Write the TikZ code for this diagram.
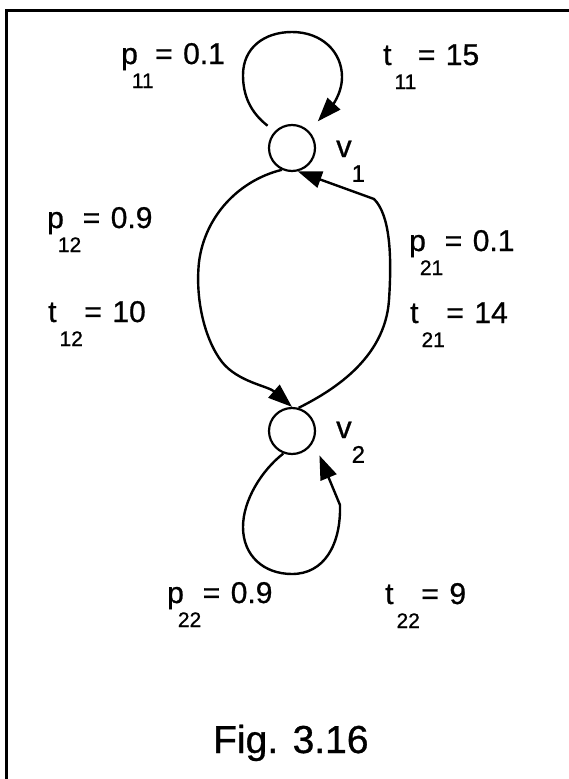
\documentclass[tikz,border=0pt]{standalone}
\usepackage{fontspec}
\setmainfont{Liberation Sans}[FakeBold=0.8]
\usetikzlibrary{arrows.meta}
\newcommand\plbl[2]{p\kern-0.2em\raisebox{-0.8em}{\fontsize{21}{21}\selectfont #1}\kern0.05em#2}
\newcommand\tlbl[2]{t\kern0.1em\raisebox{-0.8em}{\fontsize{21}{21}\selectfont #1}\kern0.05em#2}
\newcommand\vlbl[1]{v\raisebox{-0.8em}{\fontsize{24}{24}\selectfont #1}}
\begin{document}
\begin{tikzpicture}[x=1pt,y=-1pt, line width=2.4pt,
  state/.style={circle,draw,minimum size=46pt,inner sep=0pt,line width=2.2pt},
  arr/.style={-{Triangle[length=24pt,width=17pt]}},
  lbl/.style={anchor=base west,inner sep=0pt,font=\fontsize{30}{30}\selectfont},
  vl/.style={anchor=base west,inner sep=0pt,font=\fontsize{31}{31}\selectfont},
  frame/.style={line width=3pt}]
\useasboundingbox (0,0) rectangle (569,779);
\coordinate (ftl) at (6,10);
\coordinate (ftr) at (569,10);
\coordinate (fbl) at (6,779);
\draw[frame] (ftr) -- (ftl) -- (fbl);

\node[state] (v1) at (292,148) {};
\node[state] (v2) at (292,431) {};

% self loop at v1
\draw[arr, shorten <=9pt, shorten >=13pt] (v1.136)
  .. controls (250,112) and (243,95) .. (243,75)
  .. controls (243,48) and (264,32) .. (292,32)
  .. controls (322,32) and (342,52) .. (342,77)
  .. controls (342,95) and (330,108) .. (v1.45);

% v1 -> v2 (left arc)
\draw[arr] (v1.245)
  .. controls (240,180) and (205,215) .. (199,262)
  .. controls (195,300) and (205,340) .. (222,362)
  .. controls (238,382) and (268,386) .. (v2.north);

% v2 -> v1 (right arc)
\draw[arr] (v2.74)
  .. controls (330,392) and (385,360) .. (389,300)
  .. controls (392,255) and (390,215) .. (374,199)
  -- (v1.-76);

% self loop at v2
\draw[arr, shorten >=15pt] (v2.249)
  .. controls (262,470) and (243,500) .. (243,527)
  .. controls (243,556) and (264,574) .. (292,574)
  .. controls (324,574) and (341,545) .. (340,505)
  -- (v2.-26);

\node[vl] (lv1) at (335,157) {\vlbl{1}};
\node[vl] (lv2) at (335,438) {\vlbl{2}};

\node[lbl] (p11) at (120,64) {\plbl{11}{=\kern0.35em 0.1}};
\node[lbl] (t11) at (382,65) {\tlbl{11}{=\kern0.35em 15}};
\node[lbl] (p12) at (46,228) {\plbl{12}{=\kern0.35em 0.9}};
\node[lbl] (t12) at (47,322) {\tlbl{12}{=\kern0.35em 10}};
\node[lbl] (p21) at (408,251) {\plbl{21}{=\kern0.35em 0.1}};
\node[lbl] (t21) at (409,323) {\tlbl{21}{=\kern0.35em 14}};
\node[lbl] (p22) at (166,603) {\plbl{22}{=\kern0.35em 0.9}};
\node[lbl] (t22) at (384,604) {\tlbl{22}{=\kern0.35em 9}};

\node[anchor=base west,inner sep=0pt,font=\fontsize{39}{39}\selectfont] (fig) at (212,753) {Fig. 3.16};
\end{tikzpicture}
\end{document}
